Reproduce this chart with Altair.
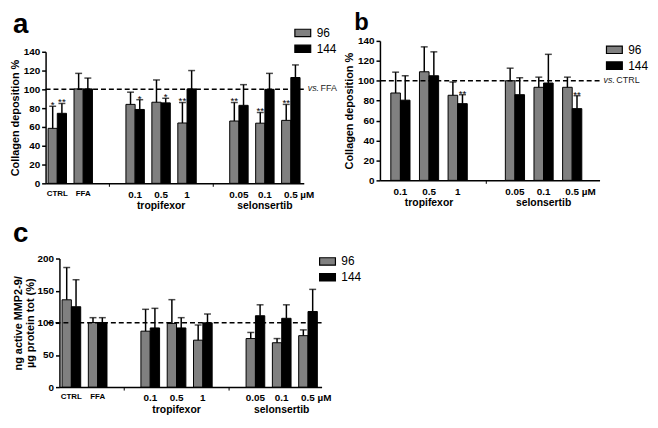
import altair as alt
import pandas as pd

FONT = "Liberation Sans, Arial, Helvetica, sans-serif"
SERIES = ["96", "144"]
SERIES_COLORS = ["#808080", "#000000"]
REF_VALUE = 100
GROUP_NAMES = ["tropifexor", "selonsertib"]

# ---------------- panel a ----------------
A_KEYS = ["CTRL", "FFA", "gap1", "tro_0.1", "tro_0.5", "tro_1", "gap2", "sel_0.05", "sel_0.1", "sel_0.5"]
A_LABELS = ["CTRL", "FFA", "", "0.1", "0.5", "1", "", "0.05", "0.1", "0.5 µM"]
A_CONDS = ["CTRL", "FFA", "tro_0.1", "tro_0.5", "tro_1", "sel_0.05", "sel_0.1", "sel_0.5"]
A_MEAN_96 = [58.5, 100.5, 84, 86.3, 64.2, 66.3, 64, 67]
A_ERR_96 = [23.5, 16.5, 13, 23.7, 21.8, 19.7, 11.4, 17]
A_MEAN_144 = [74.5, 100.5, 78.6, 85.6, 100.5, 83, 100, 112.6]
A_ERR_144 = [10.5, 11.5, 10.4, 4.9, 19.5, 22, 17, 13.4]
A_STAR_96 = ["*", "", "", "", "**", "**", "**", "**"]
A_STAR_144 = ["**", "", "*", "*", "", "", "", ""]
A_GROUPS = ["tro_0.5", "sel_0.1"]

# ---------------- panel b ----------------
B_KEYS = ["tro_0.1", "tro_0.5", "tro_1", "gap1", "sel_0.05", "sel_0.1", "sel_0.5"]
B_LABELS = ["0.1", "0.5", "1", "", "0.05", "0.1", "0.5 µM"]
B_CONDS = ["tro_0.1", "tro_0.5", "tro_1", "sel_0.05", "sel_0.1", "sel_0.5"]
B_MEAN_96 = [87.7, 109, 85.4, 100, 93.4, 93.4]
B_ERR_96 = [20.9, 25, 13.3, 12.6, 10.2, 10.2]
B_MEAN_144 = [80.5, 105, 77, 86, 97.7, 72]
B_ERR_144 = [24.5, 24, 9, 17, 28.8, 13]
B_STAR_96 = ["", "", "", "", "", ""]
B_STAR_144 = ["", "", "**", "", "", "**"]
B_GROUPS = ["tro_0.5", "sel_0.1"]

# ---------------- panel c ----------------
C_KEYS = A_KEYS
C_LABELS = A_LABELS
C_CONDS = A_CONDS
C_MEAN_96 = [135.8, 100.5, 87, 99, 73, 75.5, 69, 80]
C_ERR_96 = [50.2, 7.5, 34, 37, 23.6, 9.5, 6.5, 9]
C_MEAN_144 = [125, 100.5, 92, 92, 100, 111, 107, 117.6]
C_ERR_144 = [42, 7.5, 30.5, 16, 13.7, 17, 21, 34.4]
C_STAR_96 = ["", "", "", "", "", "", "", ""]
C_STAR_144 = ["", "", "", "", "", "", "", ""]
C_GROUPS = ["tro_0.5", "sel_0.1"]

LEGEND_PATH = "M-1,-0.47L1,-0.47L1,0.47L-1,0.47Z"


def long_df(conds, m96, e96, s96, m144, e144, s144):
    rows = []
    for i, k in enumerate(conds):
        rows.append({"key": k, "series": "96", "mean": m96[i], "top": m96[i] + e96[i], "star": s96[i]})
        rows.append({"key": k, "series": "144", "mean": m144[i], "top": m144[i] + e144[i], "star": s144[i]})
    return pd.DataFrame(rows)


def label_expr(keys, labels):
    parts = [f"datum.value == '{k}' ? '{l}'" for k, l in zip(keys, labels)]
    return " : ".join(parts) + " : ''"


def panel(keys, labels, df, groups, letter, ref_label, ytitle, yvals, ymax,
          width, height, yrange, xrange, pinner, pouter, balign,
          legend_x, legend_y, letter_x, letter_y, letter_size, y_offset, title_pad):
    xs_kw = dict(domain=keys, paddingInner=pinner, paddingOuter=pouter, align=balign)
    if xrange is not None:
        xs_kw["range"] = xrange
    xs = alt.Scale(**xs_kw)
    ys_kw = dict(domain=[0, ymax], nice=False, zero=True)
    if yrange is not None:
        ys_kw["range"] = yrange
    ys = alt.Scale(**ys_kw)

    xaxis = alt.Axis(
        title=None, labelExpr=label_expr(keys, labels), labelAngle=0,
        labelFontSize={"condition": {"test": "datum.value == 'CTRL' || datum.value == 'FFA'", "value": 8}, "value": 10},
        labelAlign={"condition": {"test": "datum.value == 'sel_0.5'", "value": "left"}, "value": "center"},
        labelOffset={"condition": {"test": "datum.value == 'sel_0.5'", "value": -7}, "value": 0},
        labelFontWeight="bold", labelPadding=3, tickSize=3, tickWidth=1,
        tickOpacity={"condition": {"test": "indexof(datum.value, 'gap') == 0", "value": 1}, "value": 0},
        domainWidth=1.5, labelOverlap=False, labelBound=False)
    yaxis = alt.Axis(
        values=yvals, title=ytitle, titleFontWeight="bold", titleFontSize=11, titlePadding=title_pad,
        titleLineHeight=12, labelFontWeight="bold", labelFontSize=10, labelPadding=2, tickSize=4,
        tickWidth=1.5, domainWidth=1.5, grid=False, offset=y_offset, labelOverlap=False)
    legend = alt.Legend(
        orient="none", legendX=legend_x, legendY=legend_y, title=None, direction="vertical",
        symbolType=LEGEND_PATH, symbolSize=256, symbolStrokeColor="black", symbolStrokeWidth=1.2,
        symbolOpacity=1, labelFontSize=12, labelFont=FONT, labelOffset=5, rowPadding=0, padding=0)

    X = alt.X("key:N", scale=xs, axis=xaxis)
    xoff = alt.XOffset("series:N", scale=alt.Scale(domain=SERIES, paddingInner=0, paddingOuter=0))

    def Y(field):
        return alt.Y(field, scale=ys, axis=yaxis)

    bars = alt.Chart(df).mark_bar(stroke="black", strokeWidth=1).encode(
        x=X, xOffset=xoff, y=Y("mean:Q"),
        color=alt.Color("series:N", scale=alt.Scale(domain=SERIES, range=SERIES_COLORS), legend=legend),
    )
    err = alt.Chart(df).mark_rule(color="black", strokeWidth=1.5).encode(
        x=X, xOffset=xoff, y=Y("mean:Q"), y2="top:Q")
    cap = alt.Chart(df).mark_tick(color="black", thickness=1.5, size=7).encode(
        x=X, xOffset=xoff, y=Y("top:Q"))
    stars = alt.Chart(df).transform_filter("datum.star != ''").mark_text(
        fontSize=10, baseline="alphabetic", dy=2).encode(
        x=X, xOffset=xoff, y=Y("top:Q"), text="star:N")
    ref_df = pd.DataFrame({"ref": [REF_VALUE], "label": [ref_label]})
    dashed = alt.Chart(ref_df).mark_rule(color="black", strokeDash=[5, 3], strokeWidth=1.5).encode(
        y=Y("ref:Q"))
    grp_df = pd.DataFrame({"key": groups, "name": GROUP_NAMES})
    grp = alt.Chart(grp_df).mark_text(fontWeight="bold", fontSize=10.5, baseline="alphabetic").encode(
        x=X, y=alt.value(height + 26), text="name:N")
    let_df = pd.DataFrame({"t": [letter]})
    let = alt.Chart(let_df).mark_text(fontWeight="bold", fontSize=letter_size, align="left",
                                      baseline="top").encode(
        x=alt.value(letter_x), y=alt.value(letter_y), text="t:N")
    layers = [bars, err, cap, stars, dashed, grp, let]
    if ref_label:
        vs1 = alt.Chart(ref_df).mark_text(text="vs.", fontStyle="italic", fontSize=9, align="left",
                                          baseline="middle", color="#222", dy=-1).encode(
            x=alt.value(width + 4), y=Y("ref:Q"))
        vs2 = alt.Chart(ref_df).mark_text(fontSize=9, align="left", baseline="middle",
                                          color="#222", dy=-1).encode(
            x=alt.value(width + 17), y=Y("ref:Q"), text="label:N")
        layers += [vs1, vs2]
    return alt.layer(*layers).properties(width=width, height=height)


a = panel(A_KEYS, A_LABELS,
          long_df(A_CONDS, A_MEAN_96, A_ERR_96, A_STAR_96, A_MEAN_144, A_ERR_144, A_STAR_144),
          A_GROUPS, "a", "FFA", "Collagen deposition %", list(range(0, 141, 20)), 140,
          261, 144, [144, 11], None, 0.29, 0.12, 0.4,
          251, -17, -33, -30, 28, 0, 3)
b = panel(B_KEYS, B_LABELS,
          long_df(B_CONDS, B_MEAN_96, B_ERR_96, B_STAR_96, B_MEAN_144, B_ERR_144, B_STAR_144),
          B_GROUPS, "b", "CTRL", "Collagen deposition %", list(range(0, 141, 20)), 140,
          222, 141, None, None, 0.33, 0.5, 0.38,
          228, 0, -26, -30, 24, 0, 3)
c = panel(C_KEYS, C_LABELS,
          long_df(C_CONDS, C_MEAN_96, C_ERR_96, C_STAR_96, C_MEAN_144, C_ERR_144, C_STAR_144),
          C_GROUPS, "c", "", ["ng active MMP2-9/", "µg protein tot (%)"], [0, 50, 100, 150, 200], 200,
          279, 130, None, [14, 279], 0.29, 0.13, 0.38,
          276, -6, -33, -39, 28, -14, 2)

chart = alt.concat(a, b, c, columns=2, spacing={"row": 76, "column": 59}, bounds="flush", align="each") \
    .resolve_scale(color="independent", xOffset="independent") \
    .properties(padding=1) \
    .configure_view(stroke=None) \
    .configure_axis(labelFont=FONT, titleFont=FONT, domainColor="black", tickColor="black",
                    labelColor="black", titleColor="black") \
    .configure_axisY(labelOverlap=False) \
    .configure_text(font=FONT) \
    .configure_legend(labelFont=FONT)

chart.save("out.html", embed_options={"renderer": "svg", "actions": False})
